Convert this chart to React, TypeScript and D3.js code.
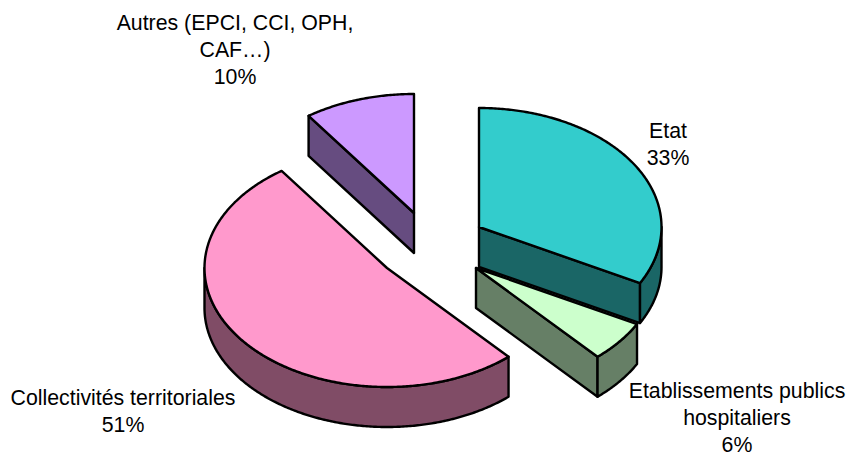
import React from "react";
import * as d3 from "d3";

const categories = ["Etat", "Etablissements publics hospitaliers", "Collectivités territoriales", "Autres (EPCI, CCI, OPH, CAF…)"];
const shares = [32.8, 5.6, 51.8, 9.8];
const topColors = ["#33CCCC", "#CCFFCC", "#FF99CC", "#CC99FF"];
const sideColors = ["#1A6666", "#667F66", "#804C66", "#664C80"];
const apexX = [479, 476, 387, 414];
const apexY = [227, 268, 268, 213];
const labelLines = [
  ["Etat", "33%"],
  ["Etablissements publics", "hospitaliers", "6%"],
  ["Collectivités territoriales", "51%"],
  ["Autres (EPCI, CCI, OPH,", "CAF…)", "10%"],
];
const labelX = [668, 737, 123, 235];
const labelY = [138, 397.5, 405, 30];

const RX = 182.5;
const RY = 119;
const DEPTH = 40;
const TAU = Math.PI * 2;

type P = [number, number];
const line = d3.line<P>();

export default function App() {
  const arcs = d3.pie<number>().sort(null).startAngle(0).endAngle(TAU)(shares);
  const pt = (i: number, a: number, dz = 0): P => [
    apexX[i] + RX * Math.sin(a),
    apexY[i] - RY * Math.cos(a) + dz,
  ];
  const rim = (i: number, a0: number, a1: number, dz = 0): P[] => {
    const n = Math.max(2, Math.ceil(Math.abs(a1 - a0) / 0.01));
    return d3.range(n + 1).map((k) => pt(i, a0 + ((a1 - a0) * k) / n, dz));
  };
  const stroke = { stroke: "#000", strokeWidth: 2.4, strokeLinejoin: "round" as const };

  // paint order: back to front
  const order = [3, 0, 2, 1];
  return (
    <svg
      width={848}
      height={452}
      viewBox="0 0 848 452"
      style={{ position: "absolute", left: 0, top: 0, background: "#fff" }}
    >
      {order.map((i) => {
        const { startAngle: s, endAngle: e } = arcs[i];
        const apex: P = [apexX[i], apexY[i]];
        const apexLow: P = [apexX[i], apexY[i] + DEPTH];
        const faces: React.ReactNode[] = [];
        if (Math.sin(e) > 0 && e < Math.PI) {
          faces.push(
            <path key="end" d={line([apex, pt(i, e), pt(i, e, DEPTH), apexLow])! + "Z"} fill={sideColors[i]} {...stroke} />
          );
        }
        if (Math.sin(s) < 0) {
          faces.push(
            <path key="start" d={line([apex, pt(i, s), pt(i, s, DEPTH), apexLow])! + "Z"} fill={sideColors[i]} {...stroke} />
          );
        }
        const w0 = Math.max(s, Math.PI / 2);
        const w1 = Math.min(e, (3 * Math.PI) / 2);
        if (w1 > w0) {
          const pts = [...rim(i, w0, w1), ...rim(i, w1, w0, DEPTH)];
          faces.push(<path key="wall" d={line(pts)! + "Z"} fill={sideColors[i]} {...stroke} />);
        }
        const top = [apex, ...rim(i, s, e)];
        return (
          <g key={categories[i]}>
            {faces}
            <path d={line(top)! + "Z"} fill={topColors[i]} {...stroke} />
          </g>
        );
      })}
      {labelLines.map((lines, i) => (
        <text
          key={categories[i]}
          textAnchor="middle"
          fontFamily="Liberation Sans, Arial, sans-serif"
          fontSize={21.3}
          fill="#000"
        >
          {lines.map((t, j) => (
            <tspan key={j} x={labelX[i]} y={labelY[i] + j * 27}>
              {t}
            </tspan>
          ))}
        </text>
      ))}
    </svg>
  );
}
